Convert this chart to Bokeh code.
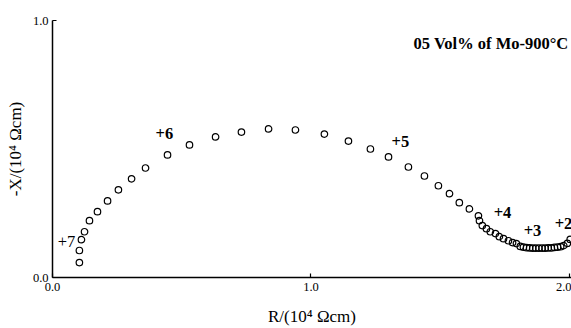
from bokeh.plotting import figure
from bokeh.models import Range1d, FixedTicker, ColumnDataSource
from bokeh.core.properties import value
from bokeh.embed import file_html
from bokeh.resources import INLINE

# Impedance data (R, -X) in 10^4 ohm cm
r_vals = [0.104, 0.104, 0.112, 0.124, 0.143, 0.174, 0.213, 0.255, 0.306, 0.360,
          0.445, 0.530, 0.631, 0.731, 0.836, 0.940, 1.052, 1.145, 1.230, 1.300,
          1.377, 1.439, 1.493, 1.536, 1.574, 1.613, 1.648, 1.652, 1.663, 1.679,
          1.694, 1.714, 1.729, 1.745, 1.764, 1.780, 1.795, 1.810,
          1.822, 1.834, 1.846, 1.858, 1.870, 1.882, 1.894, 1.906, 1.918, 1.930,
          1.942, 1.954, 1.966, 1.978, 1.992, 2.003]
x_vals = [0.058, 0.105, 0.147, 0.178, 0.221, 0.256, 0.298, 0.341, 0.384, 0.426,
          0.477, 0.516, 0.547, 0.566, 0.578, 0.574, 0.558, 0.531, 0.500, 0.469,
          0.430, 0.395, 0.357, 0.326, 0.291, 0.267, 0.240, 0.221, 0.202, 0.190,
          0.178, 0.171, 0.159, 0.151, 0.143, 0.136, 0.132, 0.121,
          0.118, 0.116, 0.115, 0.114, 0.114, 0.114, 0.114, 0.114, 0.115, 0.115,
          0.117, 0.118, 0.120, 0.124, 0.133, 0.148]

# Frequency decade annotations
ann_text = ["+7", "+6", "+5", "+4", "+3", "+2"]
ann_r = [0.054, 0.433, 1.346, 1.741, 1.857, 1.977]
ann_x = [0.140, 0.562, 0.531, 0.252, 0.182, 0.209]
ann_bold = [False, True, True, True, True, True]

title_text = "05 Vol% of Mo-900°C"
x_ticks = [0.0, 1.0, 2.0]
y_ticks = [0.0, 1.0]
x_label = "R/(10⁴ Ωcm)"
y_label = "-X/(10⁴ Ωcm)"

FONT = "Liberation Serif"

p = figure(width=571, height=328, output_backend="svg", toolbar_location=None,
           x_range=Range1d(0, 2.008), y_range=Range1d(0, 1.0),
           min_border_left=52, min_border_right=0, min_border_top=20,
           min_border_bottom=50)
p.background_fill_color = "white"
p.border_fill_color = "white"
p.outline_line_color = None
p.grid.visible = False

p.scatter(r_vals, x_vals, marker="circle", size=6.5, fill_alpha=0,
          line_color="black", line_width=1.2)

bold_src = ColumnDataSource(dict(
    x=[a for a, b in zip(ann_r, ann_bold) if b],
    y=[a for a, b in zip(ann_x, ann_bold) if b],
    t=[a for a, b in zip(ann_text, ann_bold) if b]))
norm_src = ColumnDataSource(dict(
    x=[a for a, b in zip(ann_r, ann_bold) if not b],
    y=[a for a, b in zip(ann_x, ann_bold) if not b],
    t=[a for a, b in zip(ann_text, ann_bold) if not b]))
p.text(x="x", y="y", text="t", source=bold_src, text_font=value(FONT),
       text_font_style="bold", text_font_size="16.5px", text_align="center",
       text_baseline="middle", text_color="black")
p.text(x="x", y="y", text="t", source=norm_src, text_font=value(FONT),
       text_font_size="16.5px", text_align="center",
       text_baseline="middle", text_color="black")

p.text(x=[1.397], y=[0.911], text=[title_text], text_font=value(FONT),
       text_font_style="bold", text_font_size="16.5px", text_align="left",
       text_baseline="middle", text_color="black")

for ax, ticks in ((p.xaxis[0], x_ticks), (p.yaxis[0], y_ticks)):
    ax.ticker = FixedTicker(ticks=ticks)
    ax.minor_tick_line_color = None
    ax.major_tick_in = 4
    ax.major_tick_out = 0
    ax.axis_line_width = 1.5
    ax.axis_line_color = "black"
    ax.major_tick_line_color = "black"
    ax.major_tick_line_width = 1.2
    ax.major_label_text_font = FONT
    ax.major_label_text_font_size = "12.5px"
    ax.major_label_text_color = "black"
    ax.axis_label_text_font = FONT
    ax.axis_label_text_font_size = "17px"
    ax.axis_label_text_font_style = "normal"
    ax.axis_label_text_color = "black"

p.xaxis[0].major_label_overrides = {0.0: "0.0", 1.0: "1.0", 2.0: "2.0"}
p.yaxis[0].major_label_overrides = {0.0: "0.0", 1.0: "1.0"}
p.xaxis[0].axis_label = x_label
p.yaxis[0].axis_label = y_label
p.xaxis[0].major_label_standoff = 5
p.yaxis[0].major_label_standoff = 4
p.xaxis[0].axis_label_standoff = 13
p.yaxis[0].axis_label_standoff = 5

open("out.html", "w").write(file_html(p, INLINE))
